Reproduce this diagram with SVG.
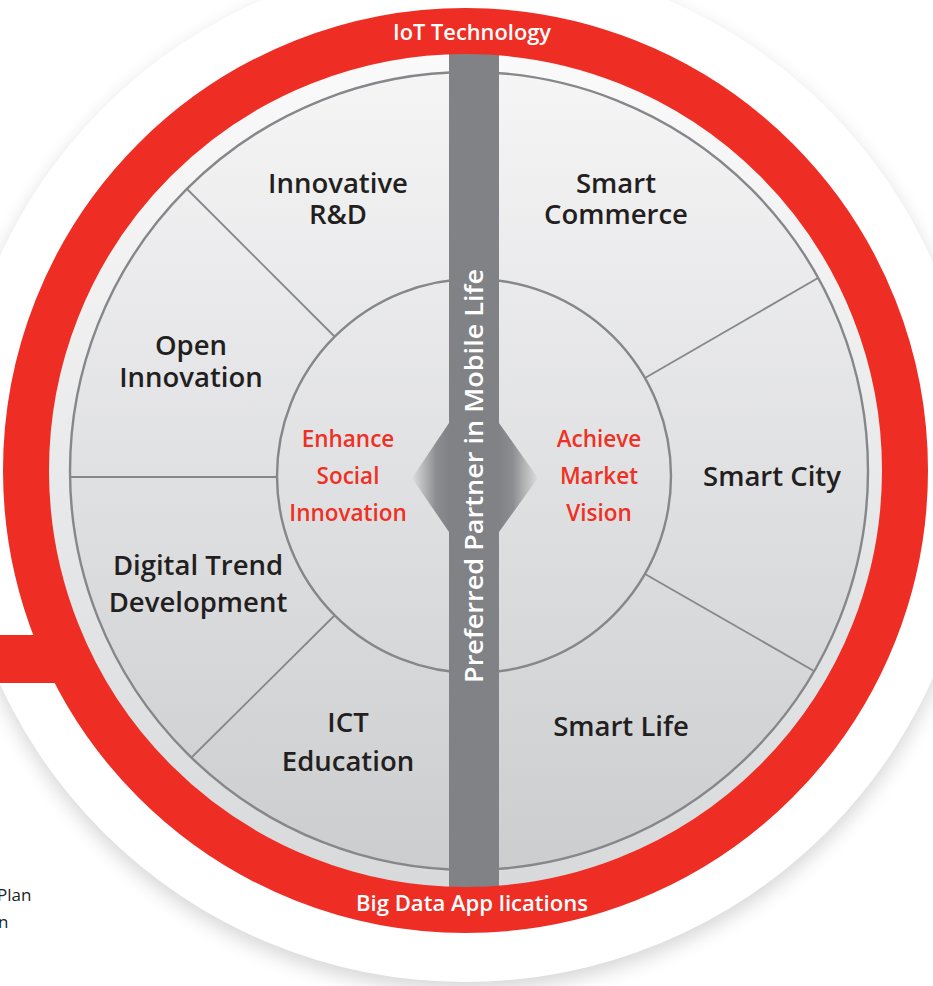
<svg xmlns="http://www.w3.org/2000/svg" width="933" height="986" viewBox="0 0 933 986">
<defs>
<style>
.lbl{font-family:"Open Sans","Liberation Sans",sans-serif;font-weight:600;font-size:27.5px;fill:#231f20;text-anchor:middle}
.red{font-family:"Open Sans","Liberation Sans",sans-serif;font-weight:600;font-size:22.5px;fill:#ee3124;text-anchor:middle}
.wht{font-family:"Open Sans","Liberation Sans",sans-serif;font-weight:600;fill:#ffffff;text-anchor:middle}
.div{stroke:#86878a;stroke-width:1.8;fill:none}
.ring{stroke:#86878a;stroke-width:2.4;fill:none}
.side{font-family:"Open Sans","Liberation Sans",sans-serif;font-size:17px;fill:#231f20}
</style>
<linearGradient id="disk" x1="0" y1="0" x2="0" y2="1">
<stop offset="0" stop-color="#f5f5f6"/>
<stop offset="1" stop-color="#cccdcf"/>
</linearGradient>
<linearGradient id="band" x1="0" y1="0" x2="0" y2="1">
<stop offset="0" stop-color="#fafafa"/>
<stop offset="1" stop-color="#d8d9db"/>
</linearGradient>
<linearGradient id="dl" x1="412" y1="0" x2="449" y2="0" gradientUnits="userSpaceOnUse">
<stop offset="0" stop-color="#dedee0"/>
<stop offset="0.65" stop-color="#8c8d90"/>
<stop offset="1" stop-color="#808285"/>
</linearGradient>
<linearGradient id="dr" x1="538" y1="0" x2="499" y2="0" gradientUnits="userSpaceOnUse">
<stop offset="0" stop-color="#dedee0"/>
<stop offset="0.65" stop-color="#8c8d90"/>
<stop offset="1" stop-color="#808285"/>
</linearGradient>
<filter id="sh" x="-20%" y="-20%" width="140%" height="140%">
<feGaussianBlur stdDeviation="10"/>
</filter>
</defs>
<rect width="933" height="986" fill="#ffffff"/>
<g id="backdrop">
<circle cx="465" cy="478" r="512" fill="#000" opacity="0.16" filter="url(#sh)"/>
<circle cx="465" cy="470" r="512" fill="#ffffff"/>
</g>
<g id="side-text">
<text class="side" x="-3" y="901">Plan</text>
<text class="side" x="-2" y="928">n</text>
</g>
<g id="disk">
<circle cx="465.5" cy="470.5" r="420" fill="url(#band)"/>
<circle cx="469" cy="471" r="399" fill="url(#disk)"/>
<circle cx="469" cy="471" r="399" class="ring"/>
<circle cx="474" cy="476" r="197" class="ring"/>
</g>
<g id="connectors">
<line class="div" x1="187" y1="189" x2="335" y2="337"/>
<line class="div" x1="70" y1="477" x2="277" y2="477"/>
<line class="div" x1="192" y1="757" x2="335" y2="615"/>
<line class="div" x1="818" y1="278" x2="645" y2="378"/>
<line class="div" x1="814" y1="671" x2="645" y2="574"/>
</g>
<g id="bar">
<rect x="449" y="45" width="50" height="850" fill="#808285"/>
<polygon points="449,423 412,478 449,532" fill="url(#dl)"/>
<polygon points="499,423 538,478 499,532" fill="url(#dr)"/>
<text class="wht" font-size="25.5" transform="translate(483,476) rotate(-90)" x="0" y="0" textLength="414" lengthAdjust="spacingAndGlyphs">Preferred Partner in Mobile Life</text>
</g>
<g id="red-ring">
<rect x="0" y="635" width="70" height="48" fill="#ee2e24"/>
<circle cx="465.5" cy="470.5" r="439.5" fill="none" stroke="#ee2e24" stroke-width="46"/>
<text class="wht" font-size="22" x="472" y="40" textLength="158" lengthAdjust="spacingAndGlyphs">IoT Technology</text>
<text class="wht" font-size="22" x="472" y="911" textLength="232" lengthAdjust="spacingAndGlyphs">Big Data App lications</text>
</g>
<g id="node-rd"><text class="lbl" x="338" y="193">Innovative</text><text class="lbl" x="338" y="224">R&amp;D</text></g>
<g id="node-commerce"><text class="lbl" x="616" y="193">Smart</text><text class="lbl" x="616" y="224">Commerce</text></g>
<g id="node-open"><text class="lbl" x="191" y="355">Open</text><text class="lbl" x="191" y="387">Innovation</text></g>
<g id="node-city"><text class="lbl" x="772" y="486">Smart City</text></g>
<g id="node-digital"><text class="lbl" x="198" y="575">Digital Trend</text><text class="lbl" x="198" y="612">Development</text></g>
<g id="node-ict"><text class="lbl" x="348" y="732">ICT</text><text class="lbl" x="348" y="771">Education</text></g>
<g id="node-life"><text class="lbl" x="621" y="736">Smart Life</text></g>
<g id="node-enhance"><text class="red" x="348" y="447">Enhance</text><text class="red" x="348" y="484">Social</text><text class="red" x="348" y="521">Innovation</text></g>
<g id="node-achieve"><text class="red" x="599" y="447">Achieve</text><text class="red" x="599" y="484">Market</text><text class="red" x="599" y="521">Vision</text></g>
</svg>
